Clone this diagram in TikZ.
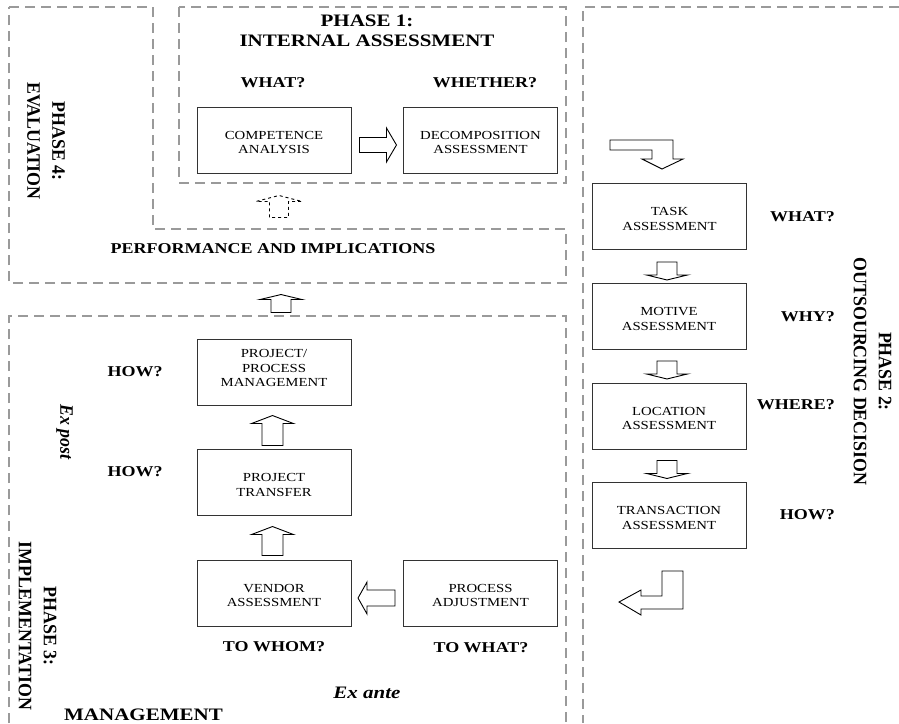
\documentclass[tikz,border=0pt]{standalone}
\usepackage{fontspec}
\setmainfont{Liberation Serif}[FakeStretch=1.2]
\newfontfamily\rotfont{Liberation Serif}[FakeStretch=0.94]
\usetikzlibrary{calc}
\definecolor{phasegray}{HTML}{9A9A9A}
% extra room above / below the lines inside a box
\newcommand\tup{\rule{0pt}{13pt}}
\newcommand\tdown{\rule[-8pt]{0pt}{0pt}}

\tikzset{
  phase/.style={draw=phasegray, line width=1.6pt, dash pattern=on 10pt off 6pt},
  stepbox/.style={draw=black!80, line width=0.95pt, minimum width=154pt, minimum height=66pt,
    align=center, inner sep=0pt, font=\fontsize{12.3}{14.3}\selectfont},
  lbl/.style={font=\fontsize{15}{18}\selectfont\bfseries, inner sep=0pt, anchor=base},
  ttl/.style={font=\fontsize{17.5}{20}\selectfont\bfseries, inner sep=0pt, align=center},
  vlbl/.style={rotate=-90, align=center, inner sep=0pt},
  blockline/.style={draw=black, line width=0.9pt, fill=white, line join=miter},
  % hollow block arrow pointing along +x: length, shaft half width, head half width, head length
  pics/barrow/.style n args={4}{code={
    \path[blockline] (0,-#2) -- ({#1-#4},-#2) -- ({#1-#4},-#3) -- (#1,0)
      -- ({#1-#4},#3) -- ({#1-#4},#2) -- (0,#2) -- cycle;}},
}

\begin{document}
\begin{tikzpicture}[x=1pt,y=-1pt]
\useasboundingbox (0,0) rectangle (899,723);

% phase frames
\draw[phase] (9,7) -- (153,7) -- (153,229) -- (566,229) -- (566,283) -- (9,283) -- cycle;
\draw[phase] (179,7) rectangle (566,183);
\draw[phase] (899,7) -- (583,7) -- (583,723);
\draw[phase] (9,723) -- (9,316) -- (566,316) -- (566,723);

% phase 1: internal assessment
\node[ttl] (p1) at (367,31) {PHASE 1:\\INTERNAL ASSESSMENT};
\node[lbl] (q1) at (273,87) {WHAT?};
\node[lbl] (q2) at (485,87) {WHETHER?};
\node[stepbox] (comp) at (274,140) {\tup COMPETENCE\\ANALYSIS};
\node[stepbox] (decomp) at (480.5,140) {\tup DECOMPOSITION\\ASSESSMENT};
\pic at ($(comp.east)+(8,5)$) {barrow={37}{7.5}{17}{10}};

% phase 4: evaluation
\node[vlbl, font=\rotfont\bfseries\fontsize{19}{25}\selectfont] (p4) at (46,141) {PHASE 4:\\EVALUATION};
\node[lbl] (perf) at (273,253) {PERFORMANCE AND IMPLICATIONS};
\pic[rotate=90, dashed] at ($(comp.south)+(5,44)$) {barrow={22}{9.5}{23}{6}};

% phase 2: outsourcing decision
\node[vlbl, font=\rotfont\bfseries\fontsize{19}{25}\selectfont] (p2) at (872.5,371.5) {PHASE 2:\hspace{20pt}\\OUTSOURCING DECISION};
\draw[blockline] (610,140) -- (673,140) -- (673,159) -- (683,159) -- (662,169)
  -- (642,159) -- (652,159) -- (652,150) -- (610,150) -- cycle;
\node[stepbox] (task) at (669.5,216.5) {\tup TASK\\ASSESSMENT};
\node[stepbox] (motive) at (669,316.5) {\tup MOTIVE\\ASSESSMENT};
\node[stepbox] (loc) at (669,416) {\tup LOCATION\\ASSESSMENT};
\node[stepbox] (tra) at (669,515.5) {\tup TRANSACTION\\ASSESSMENT};
\pic[rotate=-90] at ($(task.south)+(-2.5,12)$) {barrow={18}{10}{20.5}{5}};
\pic[rotate=-90] at ($(motive.south)+(-2,11)$) {barrow={18}{10}{20.5}{5}};
\pic[rotate=-90] at ($(loc.south)+(-2,11)$) {barrow={18}{10}{20.5}{5}};
\node[lbl, anchor=base east] (q3) at (835,221) {WHAT?};
\node[lbl, anchor=base east] (q4) at (835,321) {WHY?};
\node[lbl, anchor=base east] (q5) at (835,409) {WHERE?};
\node[lbl, anchor=base east] (q6) at (835,519) {HOW?};
\draw[blockline] (662,571) -- (683,571) -- (683,609) -- (641,609) -- (641,615)
  -- (619,602) -- (641,590) -- (641,596) -- (662,596) -- cycle;

% phase 3: implementation management
\node[vlbl, font=\rotfont\bfseries\fontsize{19}{25}\selectfont] (p3) at (37.5,626) {PHASE 3:\\IMPLEMENTATION};
\node[ttl] (mgmt) at (143.5,720) [anchor=base] {MANAGEMENT};
\node[vlbl, font=\rotfont\bfseries\itshape\fontsize{19}{25}\selectfont] (expost) at (64.5,432) {Ex post};
\node[ttl, font=\fontsize{17.5}{20}\selectfont\bfseries\itshape] (exante) at (367,698) [anchor=base] {Ex ante};
\node[stepbox] (ppm) at (274,372) {PROJECT/\\PROCESS\\MANAGEMENT\tdown};
\node[stepbox] (trans) at (274,482.5) {\tup PROJECT\\TRANSFER};
\node[stepbox] (vend) at (274,593) {\tup VENDOR\\ASSESSMENT};
\node[stepbox] (padj) at (480.5,593) {\tup PROCESS\\ADJUSTMENT};
\pic[rotate=90] at ($(ppm.north)+(7,-26)$) {barrow={18}{10}{21}{5}};
\pic[rotate=90] at ($(trans.north)+(-1.5,-3.5)$) {barrow={30}{10.5}{21}{8}};
\pic[rotate=90] at ($(vend.north)+(-1.5,-4)$) {barrow={29}{10.5}{21}{8}};
\pic[rotate=180] at ($(padj.west)+(-8,5)$) {barrow={37}{8}{16}{9}};
\node[lbl] (q7) at (135,376) {HOW?};
\node[lbl] (q8) at (135,476) {HOW?};
\node[lbl] (q9) at (274,651) {TO WHOM?};
\node[lbl] (q10) at (481,652) {TO WHAT?};
\end{tikzpicture}
\end{document}
